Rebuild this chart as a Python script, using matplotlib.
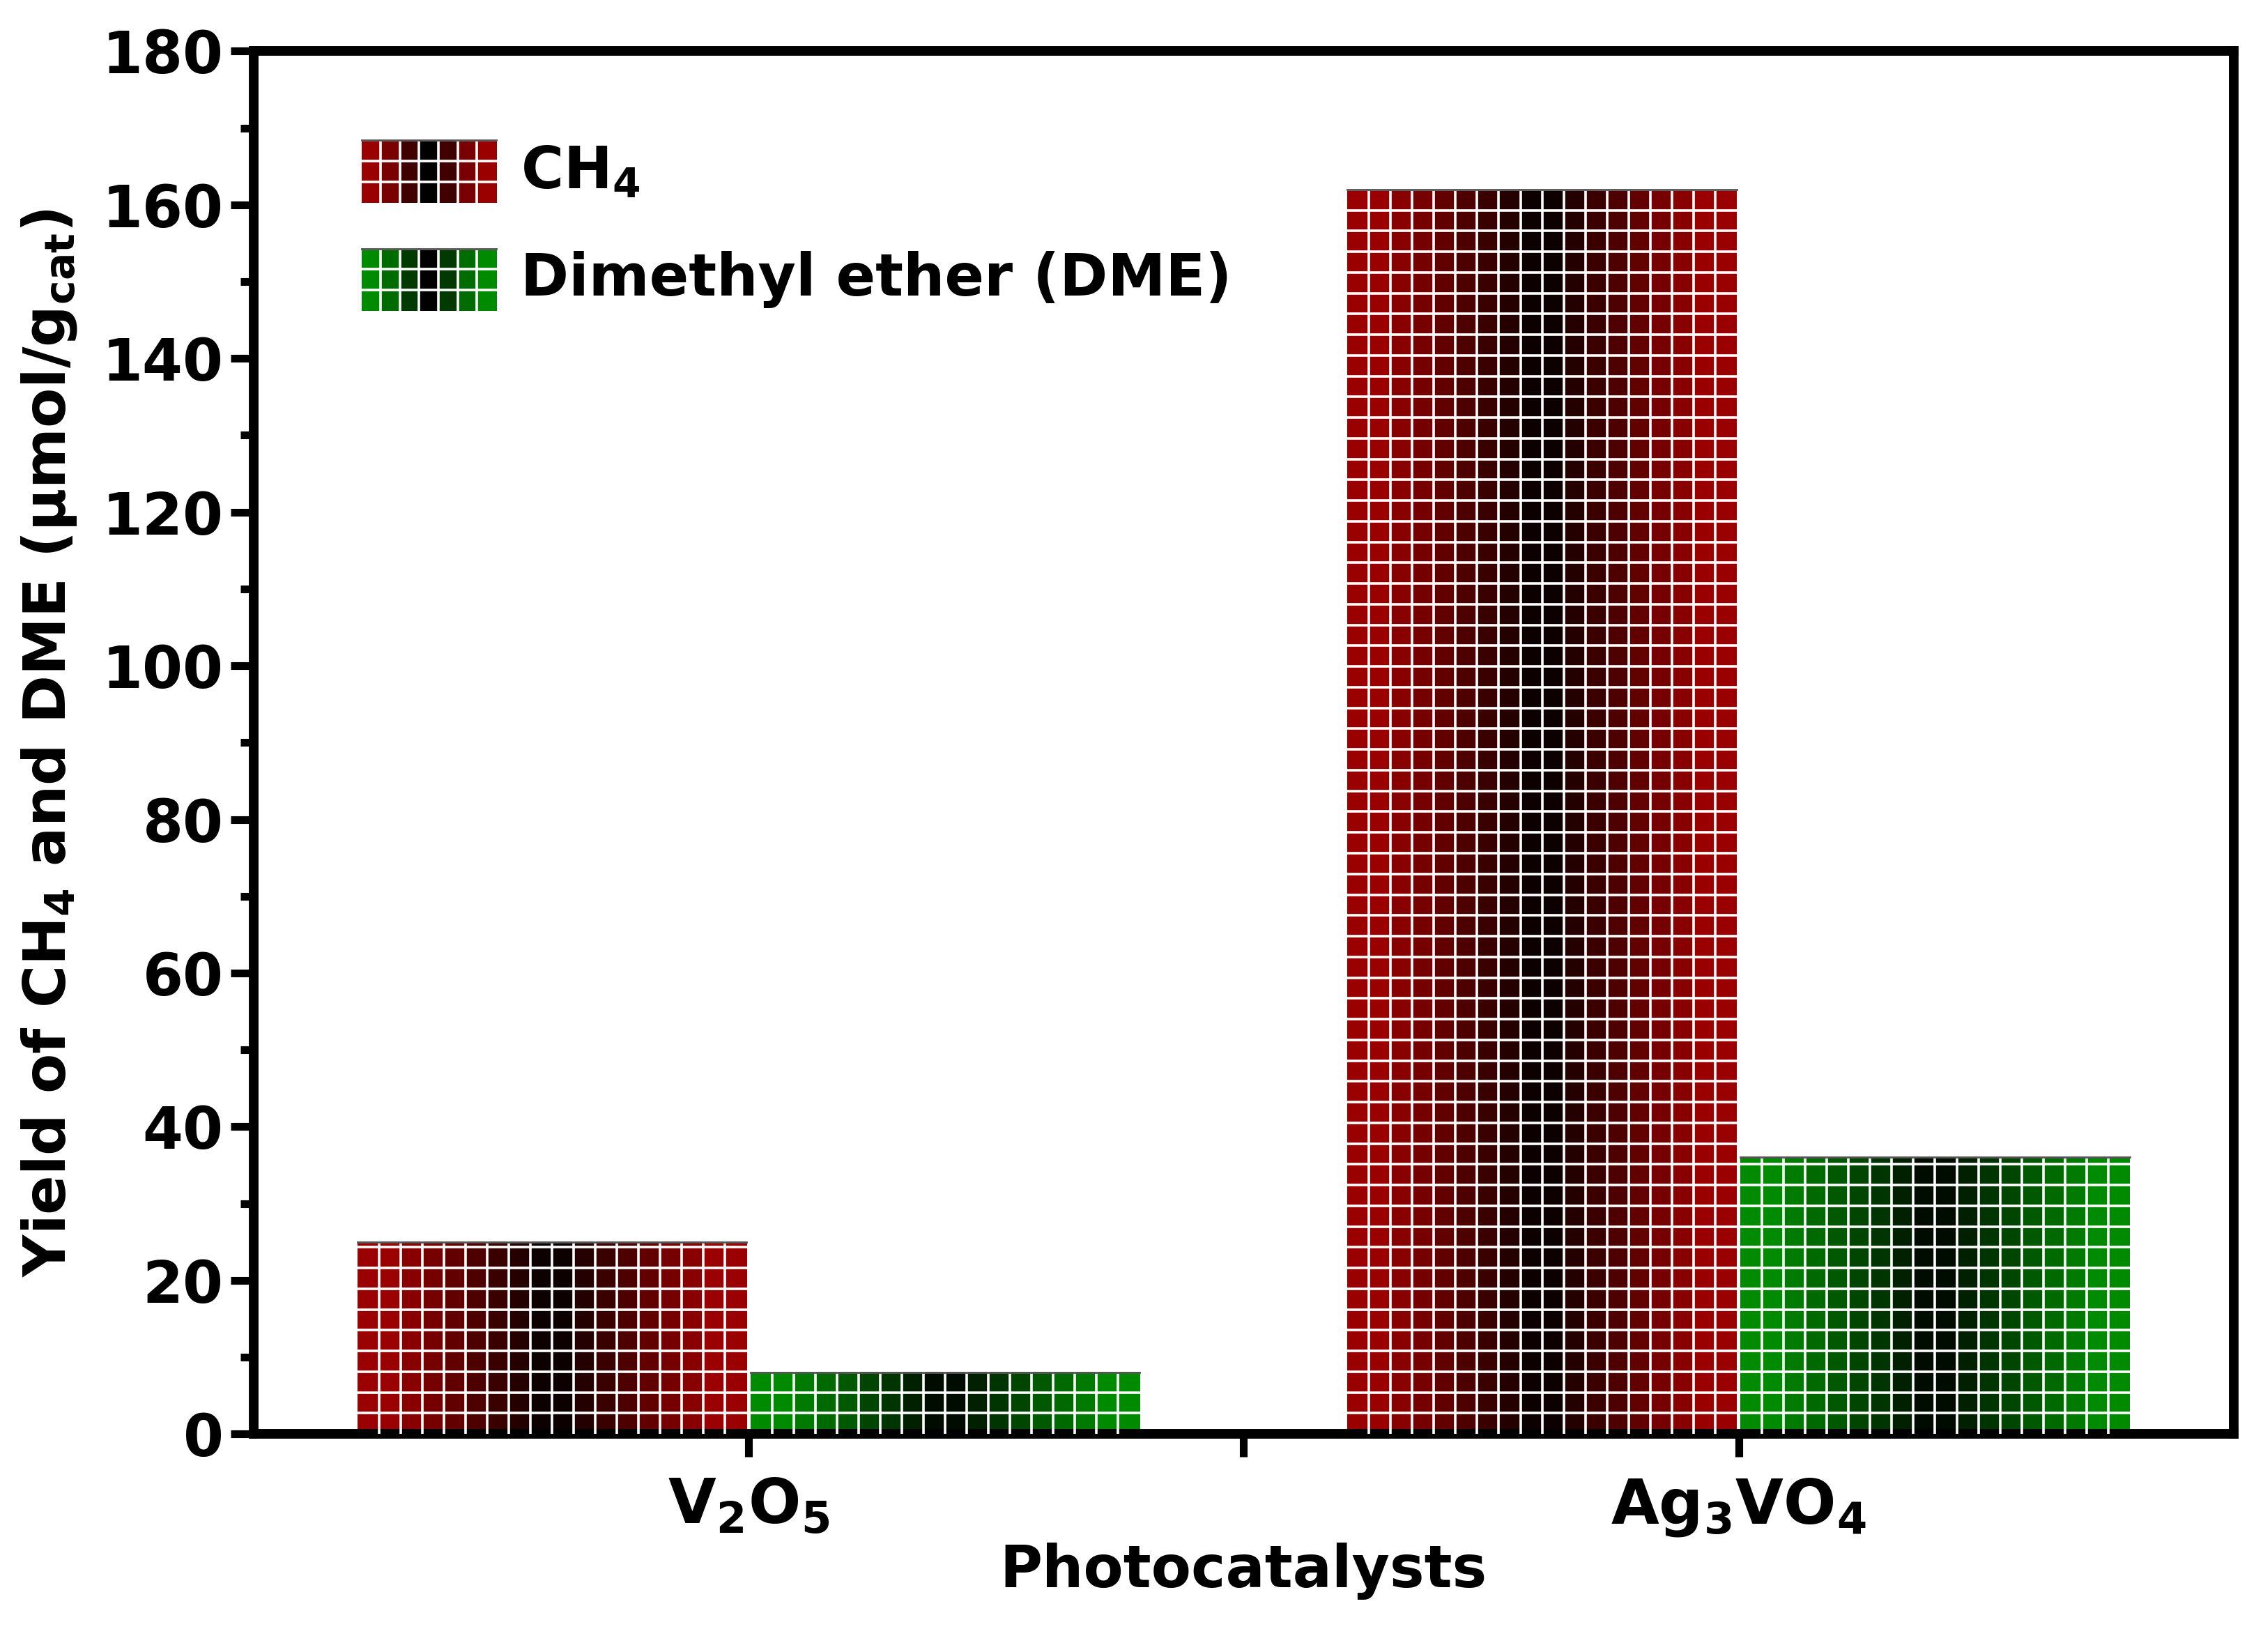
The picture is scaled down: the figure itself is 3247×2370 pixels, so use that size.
import numpy as np
import matplotlib
matplotlib.use("Agg")
import matplotlib.pyplot as plt
from matplotlib.colors import to_rgb

catalysts = ["V$_\\mathbf{2}$O$_\\mathbf{5}$", "Ag$_\\mathbf{3}$VO$_\\mathbf{4}$"]
ch4 = [25, 162]
dme = [8, 36]
series_labels = ["CH$_\\mathbf{4}$", "Dimethyl ether (DME)"]
red = "#9a0000"
green = "#008a00"

plt.rcParams['font.family'] = ['DejaVu Sans']
plt.rcParams['font.weight'] = 'bold'
plt.rcParams['mathtext.default'] = 'bf'

fig = plt.figure(figsize=(16.235, 11.85), dpi=200)
ax = fig.add_axes([0.112, 0.132, 0.875, 0.837])

def grad_block(x0, x1, y0, y1, color, ncols=18, rowh=2.7):
    c = np.array(to_rgb(color))
    t = np.abs(np.linspace(-1, 1, ncols))  # 0 at centre
    t = np.clip(t * 1.15, 0, 1) ** 0.9
    img = (c[None, :] * t[:, None])[None, :, :]
    ax.imshow(img, extent=(x0, x1, y0, y1), aspect='auto', interpolation='nearest', zorder=2)
    for xv in np.linspace(x0, x1, ncols + 1)[1:-1]:
        ax.plot([xv, xv], [y0, y1], color='white', lw=1.3, zorder=3)
    yv = y0 + rowh
    while yv < y1:
        ax.plot([x0, x1], [yv, yv], color='white', lw=1.3, zorder=3)
        yv += rowh
    ax.plot([x0, x1], [y1, y1], color='#555555', lw=1.0, zorder=3)

w = 0.393
x = np.arange(1, len(catalysts) + 1)
for xi, v in zip(x, ch4):
    grad_block(xi - w - 0.002, xi - 0.002, 0, v, red)
for xi, v in zip(x, dme):
    grad_block(xi + 0.002, xi + w + 0.002, 0, v, green)

# legend swatches
grad_block(0.609, 0.745, 160.3, 168.4, red, ncols=7, rowh=2.7)
grad_block(0.609, 0.745, 146.2, 154.3, green, ncols=7, rowh=2.7)
ax.text(0.77, 164.3, series_labels[0], fontsize=30, fontweight='bold', va='center')
ax.text(0.77, 150.3, series_labels[1], fontsize=30, fontweight='bold', va='center')

ax.set_xlim(0.5, 2.5)
ax.set_ylim(0, 180)
ax.set_xticks(x)
ax.set_xticklabels(catalysts, fontsize=32, fontweight='bold')
ax.set_xticks([1.5], minor=True)
ax.set_yticks(np.arange(0, 181, 20))
ax.set_yticks(np.arange(0, 181, 10), minor=True)
ax.tick_params(axis='y', which='major', labelsize=30, width=4, length=12, direction='out')
ax.tick_params(axis='y', which='minor', width=4, length=7, direction='out')
ax.tick_params(axis='x', which='both', width=4, length=12, direction='out', pad=10)
for lbl in ax.get_yticklabels():
    lbl.set_fontweight('bold')
for s in ax.spines.values():
    s.set_linewidth(5)
ax.set_xlabel("Photocatalysts", fontsize=30, fontweight='bold', labelpad=2)
ax.set_ylabel("Yield of CH$_\\mathbf{4}$ and DME (μmol/g$_\\mathbf{cat}$)", fontsize=30, fontweight='bold', labelpad=12)
fig.savefig("out.png", dpi=200)
